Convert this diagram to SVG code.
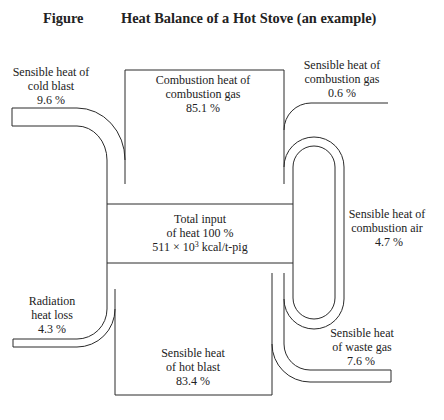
<svg xmlns="http://www.w3.org/2000/svg" width="444" height="420" viewBox="0 0 444 420">
<style>
.bg{fill:#fff}
.ln{fill:none;stroke:#2a2a2a;stroke-width:1}
text{font-family:"Liberation Serif","Times New Roman",serif;font-size:12px;fill:#222;text-anchor:middle}
.ttl{font-size:14.4px;font-weight:bold;text-anchor:start}
</style>
<rect class="bg" x="0" y="0" width="444" height="420"/>
<g id="title">
<text class="ttl" x="43" y="23">Figure</text>
<text class="ttl" x="121" y="23">Heat Balance of a Hot Stove (an example)</text>
</g>
<g id="connectors">
<path class="ln" d="M77,108 H12 V126 H77 A30,34 0 0 1 107,160 V309 A30,30 0 0 1 77,339 H13 V347 H77 A38,38 0 0 0 115,309"/>
<path class="ln" d="M77,108 A48,52 0 0 1 125,160"/>
<path class="ln" d="M284,130 A27,27 0 0 1 311,103 H388"/>
<path class="ln" d="M284,167 A30,30 0 0 1 344,167 V299 A30,30 0 0 1 284,299"/>
<rect class="ln" x="293" y="146" width="42" height="173" rx="21" ry="21"/>
<path class="ln" d="M272,344 A38,38 0 0 0 310,382 H391 V370 H310 A26,26 0 0 1 284,344 V273"/>
</g>
<g id="cold-blast">
<text x="51" y="76">Sensible heat of</text>
<text x="51" y="90">cold blast</text>
<text x="51" y="104">9.6 %</text>
</g>
<g id="combustion-gas">
<path class="ln" d="M125,184 V70 H284 V184"/>
<text x="203" y="84">Combustion heat of</text>
<text x="203" y="98">combustion gas</text>
<text x="203" y="112">85.1 %</text>
</g>
<g id="combustion-gas-sensible">
<text x="342" y="69">Sensible heat of</text>
<text x="342" y="83">combustion gas</text>
<text x="342" y="97">0.6 %</text>
</g>
<g id="total-input">
<path class="ln" d="M107,204 H293 M107,263 H293"/>
<text x="200" y="223">Total input</text>
<text x="200" y="237">of heat 100 %</text>
<text x="200" y="251">511 × 10<tspan font-size="8" dy="-4">3</tspan><tspan dy="4"> kcal/t-pig</tspan></text>
</g>
<g id="combustion-air">
<text x="387" y="218">Sensible heat of</text>
<text x="387" y="232">combustion air</text>
<text x="389" y="246">4.7 %</text>
</g>
<g id="radiation">
<text x="52" y="305">Radiation</text>
<text x="52" y="319">heat loss</text>
<text x="52" y="333">4.3 %</text>
</g>
<g id="hot-blast">
<path class="ln" d="M115,289 V395 H272 V273"/>
<text x="193" y="357">Sensible heat</text>
<text x="193" y="371">of hot blast</text>
<text x="193" y="385">83.4 %</text>
</g>
<g id="waste-gas">
<text x="362" y="337">Sensible heat</text>
<text x="362" y="351">of waste gas</text>
<text x="361" y="365">7.6 %</text>
</g>
</svg>
